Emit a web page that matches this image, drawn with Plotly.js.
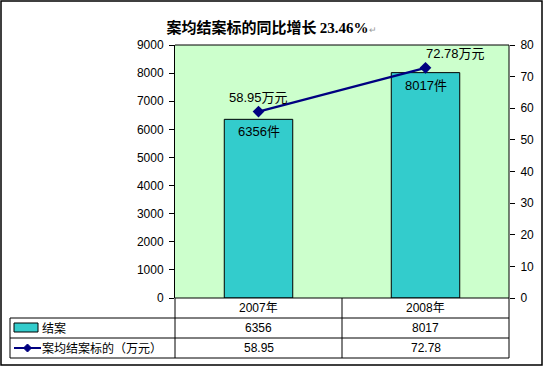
<!DOCTYPE html>
<html><head><meta charset="utf-8">
<script src="https://cdn.plot.ly/plotly-3.0.1.min.js"></script>
<style>body{margin:0;padding:0;background:#fff}#chart{width:543px;height:366px}</style>
</head><body><div id="chart"></div>
<script>
const categories = ['2007年', '2008年'];
const closedCases = [6356, 8017];
const avgAmount = [58.95, 72.78];
const seriesNames = ['结案', '案均结案标的（万元）'];
const titleText = '案均结案标的同比增长 <span style="font-family:Liberation Serif">23.46%</span><span style="font-size:9px;color:#999;font-weight:normal">↵</span>';

const W = 543, H = 366;
const px = x => x / W;
const py = y => 1 - y / H;
const L = 175, R = 509, T = 45, B = 298;
const FONT = 'Liberation Sans, Arial, Noto Sans CJK SC, sans-serif';

const traces = [
  {type: 'bar', x: categories, y: closedCases, name: seriesNames[0],
   marker: {color: '#33CCCC', line: {color: '#000', width: 1}}, hoverinfo: 'none'},
  {type: 'scatter', mode: 'lines+markers', x: categories, y: avgAmount, yaxis: 'y2', name: seriesNames[1],
   line: {color: '#000080', width: 2.2}, marker: {symbol: 'diamond', size: 9, color: '#000080'}, hoverinfo: 'none'}
];

const shapes = [];
const line = (x0, y0, x1, y1, color, w) => shapes.push({type: 'line', xref: 'paper', yref: 'paper',
  x0: px(x0), y0: py(y0), x1: px(x1), y1: py(y1), line: {color: color || '#000', width: w || 1}});
// plot border
line(L, T, R, T, '#000', 1);
line(R, T, R, B, '#000', 1);
// table
line(L, B, L, 358);
line(R, B, R, 358);
line(342, B, 342, 358);
line(L, 318, R, 318);
line(10, 318, L, 318);
line(10, 338, R, 338);
line(10, 358, R, 358);
line(10, 318, 10, 358);
// outer frame
shapes.push({type: 'rect', xref: 'paper', yref: 'paper', x0: px(1), x1: px(542), y0: py(365), y1: py(1), line: {color: '#000', width: 1.5}});
// legend keys
shapes.push({type: 'rect', xref: 'paper', yref: 'paper', x0: px(14), x1: px(38), y0: py(332), y1: py(323), fillcolor: '#33CCCC', line: {color: '#000', width: 1}});
line(14, 348, 41, 348, '#000080', 2);
shapes.push({type: 'path', xref: 'paper', yref: 'paper',
  path: `M ${px(27.5)} ${py(344)} L ${px(31.5)} ${py(348)} L ${px(27.5)} ${py(352)} L ${px(23.5)} ${py(348)} Z`,
  fillcolor: '#000080', line: {color: '#000080', width: 1}});

const ann = [];
const tf = {family: FONT, size: 12, color: '#000'};
categories.forEach((c, i) => {
  ann.push({xref: 'x', yref: 'paper', x: c, y: py(308), text: c, showarrow: false, font: tf, yanchor: 'middle'});
  ann.push({xref: 'x', yref: 'paper', x: c, y: py(328), text: String(closedCases[i]), showarrow: false, font: tf, yanchor: 'middle'});
  ann.push({xref: 'x', yref: 'paper', x: c, y: py(348), text: avgAmount[i].toFixed(2), showarrow: false, font: tf, yanchor: 'middle'});
  ann.push({xref: 'x', yref: 'y', x: c, y: closedCases[i], text: closedCases[i] + '件', showarrow: false, font: {family: FONT, size: 13, color: '#000'}, yanchor: 'top', yshift: -3});
  ann.push({xref: 'x', yref: 'y2', x: c, y: avgAmount[i], text: avgAmount[i].toFixed(2) + '万元', showarrow: false, font: {family: FONT, size: 13, color: '#000'}, yanchor: 'bottom', yshift: 5, xshift: i === 1 ? 30 : 0});
});
ann.push({xref: 'paper', yref: 'paper', x: px(40), y: py(328), text: seriesNames[0], showarrow: false, font: tf, xanchor: 'left', yanchor: 'middle'});
ann.push({xref: 'paper', yref: 'paper', x: px(40), y: py(348), text: seriesNames[1], showarrow: false, font: tf, xanchor: 'left', yanchor: 'middle'});

const layout = {
  width: W, height: H,
  margin: {l: 0, r: 0, t: 0, b: 0},
  paper_bgcolor: '#fff', plot_bgcolor: '#CCFFCC',
  showlegend: false,
  bargap: 0.59,
  title: {text: titleText, x: 0.5, xanchor: 'center', y: py(28), yanchor: 'middle',
          font: {family: 'Noto Sans CJK SC, sans-serif', size: 15, color: '#000', weight: 'bold'}},
  xaxis: {domain: [px(L), px(R)], showticklabels: false, ticks: '', showgrid: false, zeroline: false,
          showline: false, fixedrange: true},
  yaxis: {domain: [py(B), py(T)], range: [0, 9000], dtick: 1000, showgrid: false, zeroline: false,
          showline: true, linecolor: '#000', linewidth: 1, ticks: 'outside', ticklen: 5, tickcolor: '#000',
          tickfont: {family: FONT, size: 12, color: '#000'}, ticklabelstandoff: 3},
  yaxis2: {overlaying: 'y', side: 'right', range: [0, 80], dtick: 10, showgrid: false, zeroline: false,
          showline: false, ticks: 'outside', ticklen: 5, tickcolor: '#000',
          tickfont: {family: FONT, size: 12, color: '#000'}, ticklabelstandoff: 3},
  shapes: shapes.concat([{type: 'line', xref: 'paper', yref: 'paper', x0: px(L), x1: px(R), y0: py(B), y1: py(B), line: {color: '#000', width: 1}}]),
  annotations: ann
};
Plotly.newPlot('chart', traces, layout, {displayModeBar: false, staticPlot: true});
</script></body></html>
